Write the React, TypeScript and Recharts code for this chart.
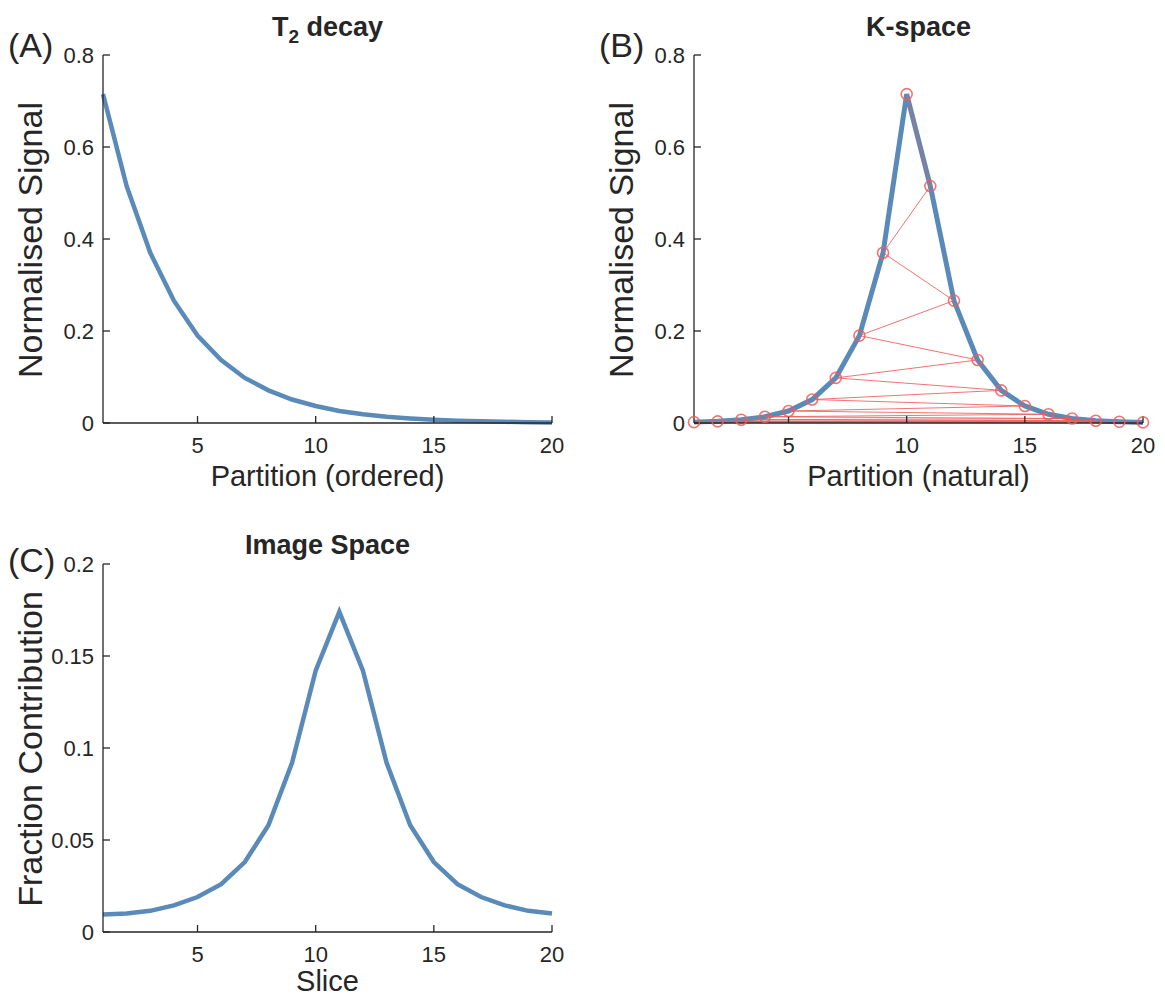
import { LineChart, Line, XAxis, YAxis } from "recharts";

// partitions 1..20 in acquisition (ordered) sequence
const partitions = [1, 2, 3, 4, 5, 6, 7, 8, 9, 10, 11, 12, 13, 14, 15, 16, 17, 18, 19, 20];
const decaySignal = [
  0.715, 0.515, 0.37, 0.266, 0.19, 0.137, 0.098, 0.071, 0.051, 0.037,
  0.026, 0.019, 0.0135, 0.0097, 0.007, 0.005, 0.0036, 0.0026, 0.0019, 0.0013,
];
// natural partition position filled at each acquisition step (centric order)
const acquisitionOrder = [10, 11, 9, 12, 8, 13, 7, 14, 6, 15, 5, 16, 4, 17, 3, 18, 2, 19, 1, 20];
const slices = [1, 2, 3, 4, 5, 6, 7, 8, 9, 10, 11, 12, 13, 14, 15, 16, 17, 18, 19, 20];
const fractionContribution = [
  0.0095, 0.01, 0.0115, 0.0145, 0.019, 0.026, 0.038, 0.058, 0.092, 0.142,
  0.174, 0.142, 0.092, 0.058, 0.038, 0.026, 0.019, 0.0145, 0.0115, 0.01,
];
const xTicks = [5, 10, 15, 20];
const signalTicks = [0, 0.2, 0.4, 0.6, 0.8];
const fractionTicks = [0, 0.05, 0.1, 0.15, 0.2];

const decayData = partitions.map((p, i) => ({ x: p, y: decaySignal[i] }));
const kspaceNatural = partitions.map((p) => ({
  x: p,
  y: decaySignal[acquisitionOrder.indexOf(p)],
}));
const kspaceAcquired = acquisitionOrder.map((p, i) => ({ x: p, y: decaySignal[i] }));
const imageData = slices.map((s, i) => ({ x: s, y: fractionContribution[i] }));

const INK = "#262626";
const BLUE = "#5a8bb8";
const RED = "#f05a5a";
const FONT = "'Liberation Sans', Arial, Helvetica, sans-serif";

const W = 580;
const H = 480;
const axisStyle = { stroke: INK, strokeWidth: 1.3 };
const tickFont = { fontSize: 22, fill: INK };

function Panel({
  left,
  top,
  yMax,
  yTicks,
  children,
}: {
  left: number;
  top: number;
  yMax: number;
  yTicks: number[];
  children: React.ReactNode;
}) {
  return (
    <div style={{ position: "absolute", left, top, width: W, height: H }}>
      <LineChart width={W} height={H} margin={{ top: 55, right: 28, bottom: 7, left: 43 }}>
        <XAxis
          type="number"
          dataKey="x"
          domain={[1, 20]}
          ticks={xTicks}
          height={50}
          tickSize={-7}
          tickMargin={21}
          axisLine={axisStyle}
          tickLine={axisStyle}
          tick={tickFont}
        />
        <XAxis
          xAxisId="top"
          orientation="top"
          type="number"
          dataKey="x"
          domain={[1, 20]}
          allowDataOverflow
          ticks={xTicks}
          height={0}
          tickSize={-7}
          tickFormatter={() => ""}
          axisLine={axisStyle}
          tickLine={axisStyle}
        />
        <YAxis
          type="number"
          domain={[0, yMax]}
          ticks={yTicks}
          width={60}
          tickSize={-7}
          tickMargin={16}
          axisLine={axisStyle}
          tickLine={axisStyle}
          tick={tickFont}
        />
        <YAxis
          yAxisId="right"
          orientation="right"
          type="number"
          domain={[0, yMax]}
          allowDataOverflow
          ticks={yTicks}
          width={0}
          tickSize={-7}
          tickFormatter={() => ""}
          axisLine={axisStyle}
          tickLine={axisStyle}
        />
        {children}
      </LineChart>
    </div>
  );
}

function Labels() {
  const panel = (
    dx: number,
    dy: number,
    tag: string,
    title: React.ReactNode,
    xLabel: string,
    yLabel: string,
    titleY: number,
    tagY: number,
    xLabelY: number
  ) => (
    <g>
      <text x={dx + 8} y={dy + tagY} fontSize={34}>
        {tag}
      </text>
      <text x={dx + 327.5} y={dy + titleY} fontSize={27} fontWeight="bold" textAnchor="middle">
        {title}
      </text>
      <text x={dx + 327.5} y={dy + xLabelY} fontSize={29} textAnchor="middle">
        {xLabel}
      </text>
      <text transform={`translate(${dx + 42}, ${dy + 240}) rotate(-90)`} fontSize={34} textAnchor="middle">
        {yLabel}
      </text>
    </g>
  );
  return (
    <svg
      width={1165}
      height={999}
      style={{ position: "absolute", left: 0, top: 0, pointerEvents: "none" }}
      fill={INK}
      fontFamily={FONT}
    >
      {panel(
        0,
        0,
        "(A)",
        <>
          T<tspan fontSize={19} dy={7}>2</tspan>
          <tspan dy={-7}> decay</tspan>
        </>,
        "Partition (ordered)",
        "Normalised Signal",
        36,
        57,
        486
      )}
      {panel(591, 0, "(B)", "K-space", "Partition (natural)", "Normalised Signal", 36, 57, 486)}
      {panel(0, 509, "(C)", "Image Space", "Slice", "Fraction Contribution", 45, 63, 482)}
    </svg>
  );
}

export default function App() {
  return (
    <div
      style={{
        position: "absolute",
        left: 0,
        top: 0,
        width: 1165,
        height: 999,
        background: "#ffffff",
        fontFamily: FONT,
      }}
    >
      <Panel left={0} top={0} yMax={0.8} yTicks={signalTicks}>
        <Line
          data={decayData}
          dataKey="y"
          type="linear"
          stroke={BLUE}
          strokeWidth={4.5}
          dot={false}
          isAnimationActive={false}
        />
      </Panel>
      <Panel left={591} top={0} yMax={0.8} yTicks={signalTicks}>
        <Line
          data={kspaceNatural}
          dataKey="y"
          type="linear"
          stroke={BLUE}
          strokeWidth={5}
          dot={false}
          isAnimationActive={false}
        />
        <Line
          data={kspaceAcquired}
          dataKey="y"
          type="linear"
          stroke={RED}
          strokeOpacity={0.85}
          strokeWidth={1}
          dot={{ r: 5.5, stroke: RED, strokeWidth: 1.6, fill: "none" }}
          isAnimationActive={false}
        />
      </Panel>
      <Panel left={0} top={509} yMax={0.2} yTicks={fractionTicks}>
        <Line
          data={imageData}
          dataKey="y"
          type="linear"
          stroke={BLUE}
          strokeWidth={4.5}
          dot={false}
          isAnimationActive={false}
        />
      </Panel>
      <Labels />
    </div>
  );
}
